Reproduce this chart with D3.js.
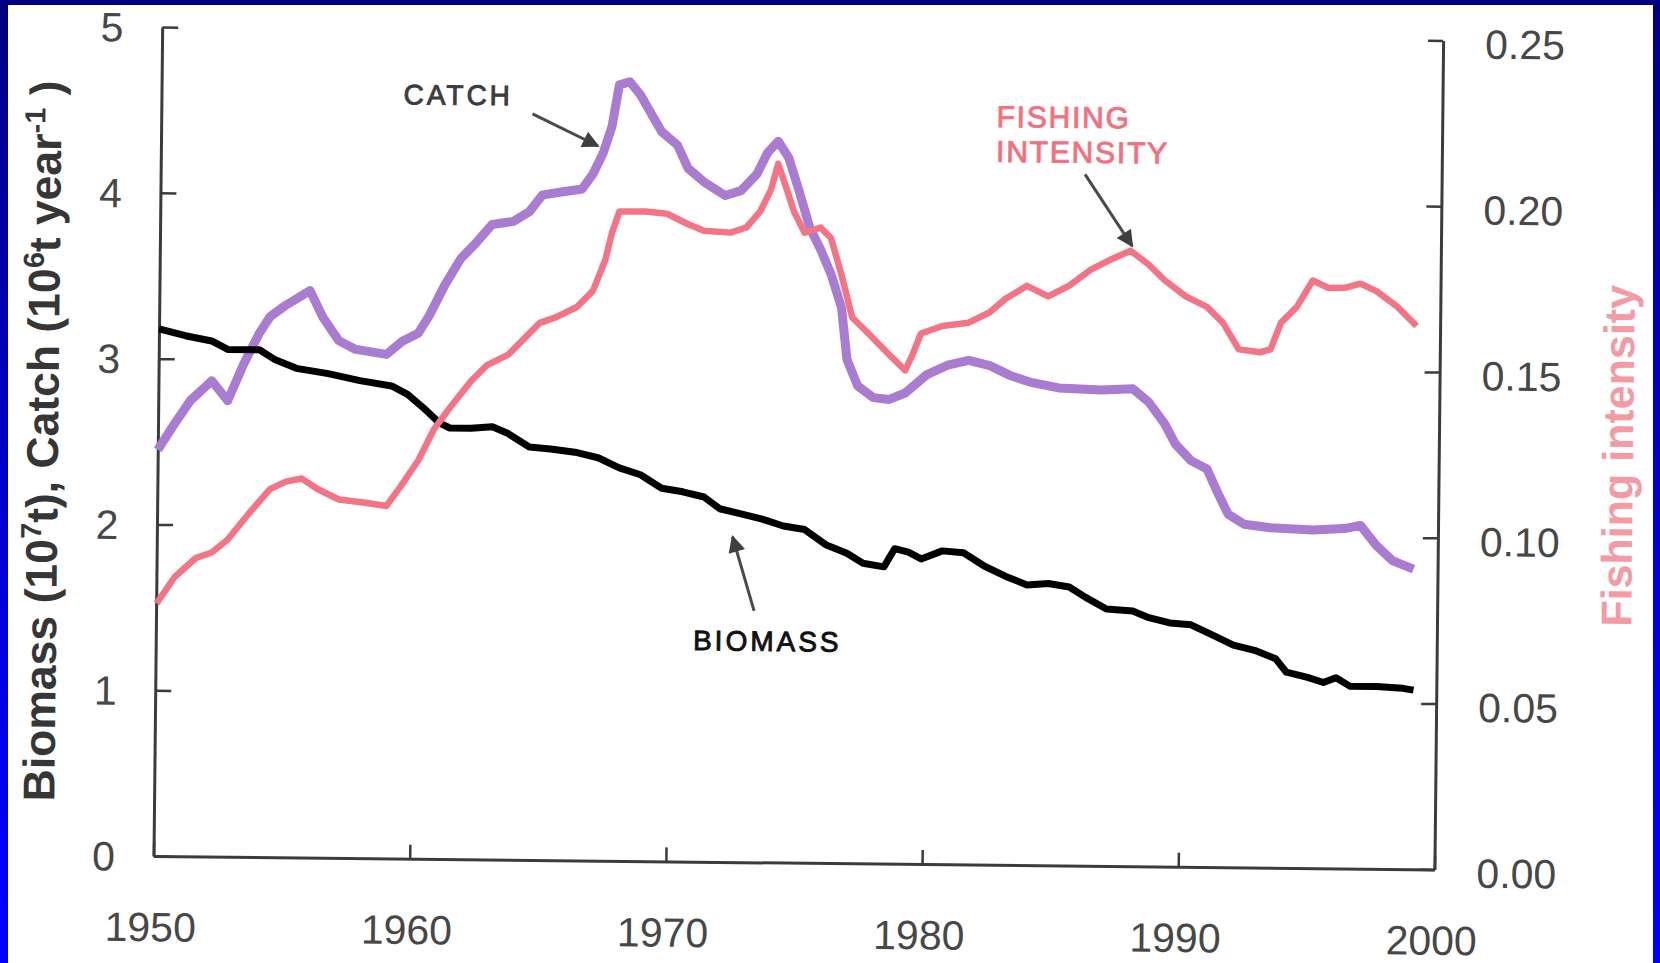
<!DOCTYPE html>
<html>
<head>
<meta charset="utf-8">
<script src="https://cdn.jsdelivr.net/npm/d3@7"></script>
<style>
  html, body { margin: 0; padding: 0; background: #0000c0; }
  svg { display: block; }
</style>
</head>
<body>
<svg id="chart" width="1660" height="963"></svg>
<script>
// values: [year, value]
const catchSeries = [
  [1950.0,2.45],[1950.65,2.61],[1951.26,2.75],[1952.08,2.87],[1952.71,2.75],[1953.31,2.97],
  [1953.92,3.16],[1954.33,3.26],[1954.94,3.33],[1955.88,3.42],[1956.39,3.26],[1957.02,3.12],
  [1957.64,3.07],[1958.47,3.05],[1958.89,3.04],[1959.50,3.12],[1960.12,3.17],[1960.52,3.27],
  [1961.13,3.46],[1961.74,3.62],[1962.35,3.72],[1962.96,3.83],[1963.79,3.85],[1964.41,3.91],
  [1964.90,4.01],[1965.64,4.03],[1966.46,4.05],[1966.87,4.14],[1967.27,4.27],[1967.60,4.43],
  [1967.87,4.68],[1968.28,4.70],[1968.70,4.62],[1969.12,4.51],[1969.54,4.40],[1970.16,4.32],
  [1970.59,4.18],[1971.21,4.10],[1972.04,4.02],[1972.66,4.05],[1973.27,4.15],[1973.68,4.28],
  [1974.09,4.35],[1974.51,4.25],[1974.93,4.05],[1975.36,3.83],[1975.79,3.70],[1976.21,3.55],
  [1976.63,3.35],[1976.86,3.04],[1977.29,2.88],[1977.91,2.81],[1978.53,2.80],[1979.15,2.84],
  [1979.97,2.95],[1980.79,3.01],[1981.62,3.04],[1982.44,3.01],[1983.27,2.95],[1984.10,2.91],
  [1985.14,2.88],[1986.79,2.87],[1988.03,2.88],[1988.66,2.80],[1989.29,2.67],[1989.71,2.55],
  [1990.33,2.45],[1990.96,2.40],[1991.38,2.26],[1991.80,2.13],[1992.43,2.07],[1993.46,2.05],
  [1995.11,2.04],[1996.35,2.05],[1996.97,2.07],[1997.60,1.95],[1998.23,1.86],[1999.06,1.81]
];

const fishingSeries = [
  [1950.02,0.0762],[1950.71,0.0842],[1951.53,0.0900],[1952.15,0.0917],[1952.76,0.0956],[1953.58,0.1036],
  [1954.40,0.1110],[1955.01,0.1133],[1955.63,0.1143],[1956.25,0.1112],[1957.09,0.1081],[1958.12,0.1072],
  [1958.95,0.1063],[1959.48,0.1121],[1960.17,0.1201],[1960.78,0.1297],[1961.39,0.1362],[1962.20,0.1442],
  [1962.82,0.1491],[1963.64,0.1523],[1964.33,0.1578],[1964.86,0.1620],[1965.48,0.1637],[1966.30,0.1669],
  [1966.92,0.1718],[1967.40,0.1814],[1967.64,0.1894],[1967.92,0.1958],[1968.95,0.1959],[1969.78,0.1953],
  [1970.61,0.1922],[1971.23,0.1903],[1972.27,0.1898],[1972.88,0.1914],[1973.41,0.1962],[1973.82,0.2027],
  [1974.10,0.2107],[1974.39,0.2043],[1974.74,0.1963],[1975.16,0.1900],[1975.78,0.1916],[1976.19,0.1885],
  [1976.62,0.1773],[1977.05,0.1646],[1977.68,0.1599],[1978.51,0.1535],[1979.14,0.1488],[1979.42,0.1536],
  [1979.74,0.1600],[1980.57,0.1623],[1981.60,0.1634],[1982.42,0.1666],[1983.04,0.1708],[1983.86,0.1747],
  [1984.69,0.1716],[1985.51,0.1749],[1986.33,0.1797],[1987.15,0.1830],[1987.89,0.1856],[1988.60,0.1815],
  [1989.23,0.1768],[1990.06,0.1720],[1990.89,0.1689],[1991.52,0.1642],[1992.15,0.1562],[1992.98,0.1554],
  [1993.39,0.1563],[1993.79,0.1644],[1994.40,0.1692],[1995.01,0.1772],[1995.64,0.1750],[1996.26,0.1751],
  [1996.87,0.1764],[1997.50,0.1742],[1998.33,0.1695],[1999.08,0.1638]
];

const biomassSeries = [
  [1950.0,3.18],[1951.03,3.14],[1952.06,3.11],[1952.69,3.06],[1953.93,3.06],[1954.55,3.00],
  [1955.38,2.95],[1956.62,2.92],[1957.86,2.88],[1959.10,2.85],[1959.73,2.80],[1960.35,2.72],
  [1960.98,2.63],[1961.39,2.60],[1962.22,2.60],[1963.05,2.61],[1963.67,2.57],[1964.50,2.49],
  [1965.33,2.48],[1966.36,2.46],[1967.19,2.43],[1968.02,2.37],[1968.85,2.33],[1969.68,2.25],
  [1970.51,2.23],[1971.34,2.20],[1971.96,2.13],[1972.79,2.10],[1973.62,2.07],[1974.45,2.03],
  [1975.28,2.01],[1976.11,1.92],[1976.94,1.87],[1977.57,1.81],[1978.39,1.79],[1978.80,1.90],
  [1979.34,1.88],[1979.84,1.84],[1980.66,1.89],[1981.49,1.88],[1982.32,1.80],[1983.15,1.74],
  [1983.98,1.69],[1984.81,1.70],[1985.63,1.68],[1986.26,1.62],[1987.09,1.55],[1988.12,1.54],
  [1988.75,1.50],[1989.57,1.47],[1990.40,1.46],[1991.23,1.40],[1992.06,1.34],[1992.89,1.31],
  [1993.72,1.26],[1994.14,1.18],[1994.97,1.15],[1995.59,1.12],[1996.08,1.15],[1996.62,1.10],
  [1997.66,1.10],[1998.69,1.09],[1999.11,1.08]
];

const yearTicks = [1950, 1960, 1970, 1980, 1990, 2000];
const leftTicks = [0, 1, 2, 3, 4, 5];
const rightTicks = [0, 0.05, 0.10, 0.15, 0.20, 0.25];

// annotation labels and arrows, in data units (year, left-axis value)
const noteLabels = [
  { text: "CATCH", year: 1959.45, value: 4.55, color: "#3c3c3c", size: 28, spacing: 3 },
  { text: "FISHING", year: 1982.6, value: 4.45, color: "#f3707f", size: 30, spacing: 1.8 },
  { text: "INTENSITY", year: 1982.6, value: 4.24, color: "#f3707f", size: 30, spacing: 1.8 },
  { text: "BIOMASS", year: 1970.97, value: 1.276, color: "#111111", size: 28, spacing: 3 }
];
const noteArrows = [
  { from: [1964.49, 4.50], to: [1967.06, 4.31] },
  { from: [1986.08, 4.17], to: [1987.95, 3.74] },
  { from: [1973.34, 1.516], to: [1972.47, 1.962] }
];

const width = 1660, height = 963;
const W = 1281, H = 829;          // plot box
const tilt = 0.6;                 // the scan is slightly rotated
const axisColor = "#3b3b3b";
const labelFont = "'Liberation Sans', Arial, sans-serif";

const svg = d3.select("#chart");

// blue slide frame
const grad = svg.append("defs").append("linearGradient")
  .attr("id", "frame").attr("x1", 0).attr("y1", 0).attr("x2", 0).attr("y2", 1);
grad.append("stop").attr("offset", "0%").attr("stop-color", "#000080");
grad.append("stop").attr("offset", "35%").attr("stop-color", "#0000b4");
grad.append("stop").attr("offset", "70%").attr("stop-color", "#0000e6");
grad.append("stop").attr("offset", "100%").attr("stop-color", "#0000ff");

svg.append("rect").attr("width", width).attr("height", height).attr("fill", "url(#frame)");
svg.append("rect").attr("x", 8).attr("y", 5).attr("width", 1645).attr("height", height - 5).attr("fill", "#ffffff");

svg.select("defs").append("marker")
  .attr("id", "arrowhead")
  .attr("viewBox", "0 0 10 10")
  .attr("refX", 9).attr("refY", 5)
  .attr("markerUnits", "userSpaceOnUse")
  .attr("markerWidth", 22).attr("markerHeight", 17)
  .attr("orient", "auto")
  .append("path").attr("d", "M0,0 L10,5 L0,10 z").attr("fill", "#3f3f3f");

const x = d3.scaleLinear().domain([1950, 2000]).range([0, W]);
const y = d3.scaleLinear().domain([0, 5]).range([H, 0]);
const y2 = d3.scaleLinear().domain([0, 0.25]).range([H, 0]);

const plot = svg.append("g")
  .attr("transform", `translate(153.5,27) rotate(${tilt},0,${H})`);

// axes
const leftAxis = plot.append("g")
  .attr("color", axisColor)
  .call(d3.axisLeft(y).tickValues(leftTicks).tickSize(-16).tickSizeOuter(0).tickFormat(d3.format("d")));

const bottomAxis = plot.append("g")
  .attr("transform", `translate(0,${H})`)
  .attr("color", axisColor)
  .call(d3.axisBottom(x).tickValues(yearTicks).tickSize(-14).tickSizeOuter(0).tickFormat(d3.format("d")));

const rightAxis = plot.append("g")
  .attr("transform", `translate(${W},0)`)
  .attr("color", axisColor)
  .call(d3.axisRight(y2).tickValues(rightTicks).tickSize(-15).tickSizeOuter(0).tickFormat(d3.format(".2f")));

[leftAxis, bottomAxis, rightAxis].forEach(a => {
  a.attr("font-family", labelFont).attr("font-size", 41);
  a.select(".domain").attr("stroke-width", 3);
  a.selectAll(".tick line").attr("stroke-width", 2.5);
  a.selectAll(".tick text").attr("fill", "#474747").attr("text-anchor", "middle").attr("dy", "0.35em");
});
leftAxis.selectAll(".tick text").attr("x", -50);
bottomAxis.selectAll(".tick text").attr("x", -3).attr("y", 71);
rightAxis.selectAll(".tick text").attr("x", 82).attr("y", 3);

// series
const lineLeft = d3.line().x(d => x(d[0])).y(d => y(d[1]));
const lineRight = d3.line().x(d => x(d[0])).y(d => y2(d[1]));

plot.append("path")
  .datum(catchSeries)
  .attr("d", lineLeft)
  .attr("fill", "none")
  .attr("stroke", "#a97bd1")
  .attr("stroke-width", 9)
  .attr("stroke-linejoin", "round");

plot.append("path")
  .datum(biomassSeries)
  .attr("d", lineLeft)
  .attr("fill", "none")
  .attr("stroke", "#000000")
  .attr("stroke-width", 7)
  .attr("stroke-linejoin", "round");

plot.append("path")
  .datum(fishingSeries)
  .attr("d", lineRight)
  .attr("fill", "none")
  .attr("stroke", "#f27485")
  .attr("stroke-width", 6.5)
  .attr("stroke-linejoin", "round");

// annotations
plot.selectAll(".note-arrow")
  .data(noteArrows)
  .join("line")
  .attr("class", "note-arrow")
  .attr("x1", d => x(d.from[0])).attr("y1", d => y(d.from[1]))
  .attr("x2", d => x(d.to[0])).attr("y2", d => y(d.to[1]))
  .attr("stroke", "#4a4a4a")
  .attr("stroke-width", 3)
  .attr("marker-end", "url(#arrowhead)");

plot.selectAll(".note-label")
  .data(noteLabels)
  .join("text")
  .attr("class", "note-label")
  .attr("x", d => x(d.year))
  .attr("y", d => y(d.value))
  .attr("fill", d => d.color)
  .attr("stroke", d => d.color)
  .attr("stroke-width", 0.9)
  .attr("font-family", labelFont)
  .attr("font-size", d => d.size)
  .attr("letter-spacing", d => d.spacing)
  .text(d => d.text);

// axis titles
const leftTitle = svg.append("text")
  .attr("transform", `translate(58,441) rotate(${-90 + tilt})`)
  .attr("text-anchor", "middle")
  .attr("font-family", labelFont)
  .attr("font-size", 44.5)
  .attr("font-weight", "bold")
  .attr("fill", "#363636");
leftTitle.append("tspan").text("Biomass (10");
leftTitle.append("tspan").attr("dy", -16).attr("font-size", 29).text("7");
leftTitle.append("tspan").attr("dy", 16).text("t), Catch (10");
leftTitle.append("tspan").attr("dy", -16).attr("font-size", 29).text("6");
leftTitle.append("tspan").attr("dy", 16).text("t year");
leftTitle.append("tspan").attr("dy", -16).attr("font-size", 29).text("-1");
leftTitle.append("tspan").attr("dy", 16).text(" )");

svg.append("text")
  .attr("transform", `translate(1633,456) rotate(${-90 + tilt})`)
  .attr("text-anchor", "middle")
  .attr("font-family", labelFont)
  .attr("font-size", 43)
  .attr("font-weight", "bold")
  .attr("fill", "#f49aa5")
  .text("Fishing intensity");
</script>
</body>
</html>
